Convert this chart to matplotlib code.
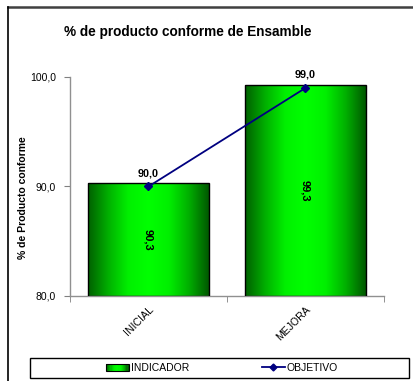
import numpy as np
import matplotlib
matplotlib.use("Agg")
import matplotlib.pyplot as plt
from matplotlib.patches import Rectangle
from matplotlib.lines import Line2D
from matplotlib.colors import LinearSegmentedColormap
from matplotlib.legend_handler import HandlerBase

plt.rcParams['font.family'] = ['Liberation Sans', 'DejaVu Sans']

categories = ["INICIAL", "MEJORA"]
indicador = [90.3, 99.3]
objetivo = [90.0, 99.0]
y_ticks = [80.0, 90.0, 100.0]

W, H = 414, 381
fig = plt.figure(figsize=(W / 100, H / 100), dpi=100)

def fx(px):
    return px / W

def fy(py):
    return 1 - py / H

ax = fig.add_axes([fx(70), fy(296), fx(384) - fx(70), fy(77) - fy(296)])

green = LinearSegmentedColormap.from_list(
    "grn", ["#006000", "#00b000", "#00f000", "#00ff00", "#00f000", "#00b000", "#005800"])
grad = np.linspace(0, 1, 256).reshape(1, -1)

x = np.arange(len(categories))
bars = ax.bar(x, [v - 80 for v in indicador], bottom=80, width=0.77,
              facecolor="none", edgecolor="black", linewidth=1.0, zorder=3)
for b in bars:
    x0, y0 = b.get_x(), b.get_y()
    w, h = b.get_width(), b.get_height()
    im = ax.imshow(grad, cmap=green, aspect="auto", extent=[x0, x0 + w, y0, y0 + h],
                   zorder=2, interpolation="bicubic")
    im.set_clip_path(b)

ax.plot(x, objetivo, color="#000080", linewidth=1.3, marker="D", markersize=4.5,
        markerfacecolor="#000080", markeredgecolor="#000080", zorder=5)

for xi, v in zip(x, objetivo):
    ax.annotate(f"{v:.1f}".replace(".", ","), (xi, v), xytext=(0, 6),
                textcoords="offset points", ha="center", va="bottom",
                fontsize=7.8, fontweight="bold", zorder=6)
for xi, v in zip(x, indicador):
    ax.text(xi, (80 + v) / 2, f"{v:.1f}".replace(".", ","), rotation=-90,
            ha="center", va="center", fontsize=8, fontweight="bold", zorder=6)

ax.set_xlim(-0.5, len(categories) - 0.5)
ax.set_ylim(80, 100)
ax.set_yticks(y_ticks)
ax.set_yticklabels([f"{t:.1f}".replace(".", ",") for t in y_ticks], fontsize=7.5)
ax.set_xticks(x)
ax.set_xticklabels(categories, rotation=45, ha="right", rotation_mode="anchor", fontsize=7.6)
ax.tick_params(axis="x", length=0, pad=6)
ax.set_xticks([-0.5, 0.5, 1.5], minor=True)
ax.tick_params(axis="x", which="minor", length=4, color="#808080")
ax.tick_params(axis="y", length=4, color="#808080", pad=6)
for s in ["top", "right"]:
    ax.spines[s].set_visible(False)
for s in ["left", "bottom"]:
    ax.spines[s].set_color("#909090")
    ax.spines[s].set_linewidth(1.0)

fig.text(fx(188), fy(32), "% de producto conforme de Ensamble", ha="center", va="center",
         fontsize=9.8, fontweight="bold")
fig.text(fx(23), fy(198), "% de Producto conforme", rotation=90, ha="center", va="center",
         fontsize=7.5, fontweight="bold")

# chart frame
fig.add_artist(Line2D([fx(8), 1], [fy(7), fy(7)], color="#404040", linewidth=1.8))
fig.add_artist(Line2D([fx(8), fx(8)], [fy(7), 0], color="black", linewidth=1.2))

# legend frame
fig.add_artist(Rectangle((fx(30), fy(378)), fx(409) - fx(30), fy(358) - fy(378),
                         transform=fig.transFigure, facecolor="white",
                         edgecolor="black", linewidth=1.0))


class GradientHandler(HandlerBase):
    def create_artists(self, legend, orig, xd, yd, width, height, fontsize, trans):
        parts = []
        n = 20
        for i in range(n):
            c = green(i / (n - 1))
            r = Rectangle((xd + width * i / n, yd), width / n + 0.3, height,
                          facecolor=c, edgecolor="none", transform=trans)
            parts.append(r)
        parts.append(Rectangle((xd, yd), width, height, facecolor="none",
                               edgecolor="black", linewidth=0.8, transform=trans))
        return parts


h_bar = Rectangle((0, 0), 1, 1)
h_line = Line2D([], [], color="#000080", linewidth=1.3, marker="D", markersize=3.5)
fig.legend([h_bar, h_line], ["INDICADOR", "OBJETIVO"], loc="center",
           bbox_to_anchor=(fx(222), fy(368)), ncol=2, frameon=False, fontsize=7.5,
           handler_map={Rectangle: GradientHandler()}, handlelength=2.2,
           handletextpad=0.2, columnspacing=7.0, borderaxespad=0)

fig.savefig("out.png", dpi=100)
